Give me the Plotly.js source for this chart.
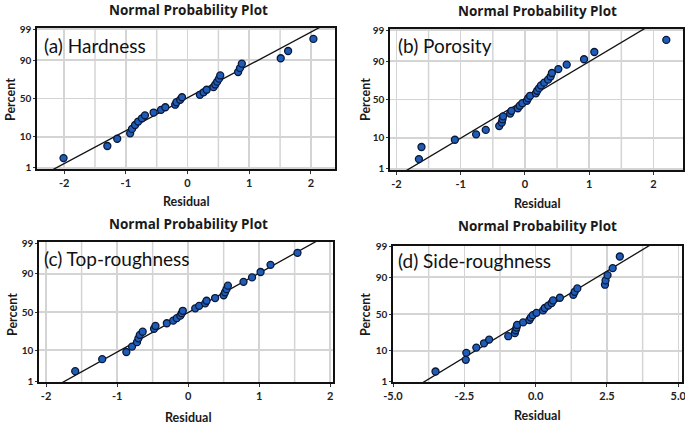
<!DOCTYPE html>
<html>
<head>
<meta charset="utf-8">
<script src="https://cdn.plot.ly/plotly-3.0.1.min.js"></script>
<style>html,body{margin:0;padding:0;background:#fff;}#chart{width:685px;height:424px;}</style>
</head>
<body>
<div id="chart"></div>
<script>
// Percent (plotting positions) read from the y positions of the points, 30 points per panel
const percents = [2.30, 5.59, 8.88, 12.17, 15.46, 18.75, 22.04, 25.33, 28.62, 31.91, 35.20, 38.49, 41.78, 45.07, 48.36, 51.64, 54.93, 58.22, 61.51, 64.80, 68.09, 71.38, 74.67, 77.96, 81.25, 84.54, 87.83, 91.12, 94.41, 97.70];

// Residuals
const hardnessResid = [-2.01, -1.30, -1.14, -0.93, -0.90, -0.85, -0.80, -0.74, -0.69, -0.55, -0.43, -0.36, -0.20, -0.18, -0.12, -0.09, 0.20, 0.26, 0.31, 0.42, 0.45, 0.48, 0.51, 0.53, 0.82, 0.85, 0.88, 1.51, 1.63, 2.04];
const porosityResid = [-1.65, -1.61, -1.09, -0.76, -0.61, -0.40, -0.36, -0.35, -0.34, -0.23, -0.21, -0.11, -0.08, -0.04, 0.03, 0.05, 0.08, 0.17, 0.19, 0.22, 0.25, 0.30, 0.36, 0.40, 0.42, 0.52, 0.65, 0.92, 1.08, 2.20];
const topRoughResid = [-1.59, -1.21, -0.87, -0.79, -0.72, -0.70, -0.68, -0.64, -0.48, -0.46, -0.30, -0.21, -0.16, -0.11, -0.09, -0.075, 0.10, 0.155, 0.24, 0.26, 0.38, 0.50, 0.52, 0.54, 0.56, 0.78, 0.90, 1.02, 1.16, 1.54];
const sideRoughResid = [-3.51, -2.45, -2.43, -2.08, -1.81, -1.63, -0.96, -0.73, -0.70, -0.67, -0.65, -0.44, -0.22, -0.17, -0.10, 0.03, 0.26, 0.32, 0.44, 0.56, 0.61, 0.85, 1.32, 1.37, 1.46, 2.43, 2.45, 2.52, 2.70, 2.95];

// Fitted reference lines: two points each (residual, percent)
const lineP = [0.5, 99.5];
const hardnessLineX = [-2.36, 2.32];
const porosityLineX = [-2.00, 2.02];
const topRoughLineX = [-1.92, 1.95];
const sideRoughLineX = [-4.28, 4.32];

// Axis ticks
const yTickPercents = [1, 10, 50, 90, 99];
const yTickText = ['1', '10', '50', '90', '99'];
const xTicksABC = [-2, -1, 0, 1, 2];
const xTickTextABC = ['-2', '-1', '0', '1', '2'];
const xMinorABC = [-1.5, -0.5, 0.5, 1.5];
const xTicksD = [-5, -2.5, 0, 2.5, 5];
const xTickTextD = ['-5.0', '-2.5', '0.0', '2.5', '5.0'];
const xMinorD = [-3.75, -1.25, 1.25, 3.75];

const panelLabels = ['(a) Hardness', '(b) Porosity', '(c) Top-roughness', '(d) Side-roughness'];
const plotTitle = 'Normal Probability Plot';

// Normal probability (probit) scale: inverse standard normal CDF (Acklam)
function probit(pct) {
  const p = pct / 100;
  const a = [-3.969683028665376e+01, 2.209460984245205e+02, -2.759285104469687e+02, 1.383577518672690e+02, -3.066479806614716e+01, 2.506628277459239e+00];
  const b = [-5.447609879822406e+01, 1.615858368580409e+02, -1.556989798598866e+02, 6.680131188771972e+01, -1.328068155288572e+01];
  const c = [-7.784894002430293e-03, -3.223964580411365e-01, -2.400758277161838e+00, -2.549732539343734e+00, 4.374664141464968e+00, 2.938163982698783e+00];
  const d = [7.784695709041462e-03, 3.224671290700398e-01, 2.445134137142996e+00, 3.754408661907416e+00];
  const pl = 0.02425, ph = 1 - pl;
  let q, r;
  if (p < pl) {
    q = Math.sqrt(-2 * Math.log(p));
    return (((((c[0]*q+c[1])*q+c[2])*q+c[3])*q+c[4])*q+c[5]) / ((((d[0]*q+d[1])*q+d[2])*q+d[3])*q+1);
  } else if (p <= ph) {
    q = p - 0.5; r = q * q;
    return (((((a[0]*r+a[1])*r+a[2])*r+a[3])*r+a[4])*r+a[5])*q / (((((b[0]*r+b[1])*r+b[2])*r+b[3])*r+b[4])*r+1);
  } else {
    q = Math.sqrt(-2 * Math.log(1 - p));
    return -(((((c[0]*q+c[1])*q+c[2])*q+c[3])*q+c[4])*q+c[5]) / ((((d[0]*q+d[1])*q+d[2])*q+d[3])*q+1);
  }
}

const W = 685, H = 424;
const px = x => x / W;
const py = y => 1 - y / H;

const panels = [
  {resid: hardnessResid, lineX: hardnessLineX, xr: [-2.44, 2.39], ticks: xTicksABC, ticktext: xTickTextABC, minor: xMinorABC,
   box: [37, 335, 28, 169], title: [188, 10], xt: [187, 202], yt: [10, 100], lab: [42, 45]},
  {resid: porosityResid, lineX: porosityLineX, xr: [-2.10, 2.46], ticks: xTicksABC, ticktext: xTickTextABC, minor: xMinorABC,
   box: [390, 683, 29, 170], title: [537, 11], xt: [537, 203], yt: [365, 100], lab: [396, 45]},
  {resid: topRoughResid, lineX: topRoughLineX, xr: [-2.10, 2.04], ticks: xTicksABC, ticktext: xTickTextABC, minor: xMinorABC,
   box: [39, 333, 242, 382], title: [188, 224], xt: [188, 417], yt: [12, 315], lab: [42, 258]},
  {resid: sideRoughResid, lineX: sideRoughLineX, xr: [-5.0, 5.13], ticks: xTicksD, ticktext: xTickTextD, minor: xMinorD,
   box: [393, 682, 246, 382], title: [537, 226], xt: [537, 415], yt: [365, 315], lab: [396, 260]}
];

const FONT = 'Lato, "Open Sans", sans-serif';
const TITLE_FONT = '"Open Sans", Lato, sans-serif';
const gridColor = '#d4d4d4';
const traces = [];
const layout = {
  width: W, height: H,
  margin: {l: 0, r: 0, t: 0, b: 0},
  paper_bgcolor: '#ffffff', plot_bgcolor: '#ffffff',
  showlegend: false,
  font: {family: FONT, color: '#222'},
  annotations: [],
  shapes: []
};

panels.forEach((p, i) => {
  const n = i === 0 ? '' : String(i + 1);
  const xa = 'x' + n, ya = 'y' + n;
  traces.push({
    type: 'scatter', mode: 'lines', xaxis: xa, yaxis: ya,
    x: p.lineX, y: lineP.map(probit),
    line: {color: '#111111', width: 1.3}, hoverinfo: 'skip'
  });
  traces.push({
    type: 'scatter', mode: 'markers', xaxis: xa, yaxis: ya,
    x: p.resid, y: percents.map(probit), cliponaxis: false,
    marker: {size: 7, color: '#1f5cb8', line: {color: '#0a1838', width: 1.3}}
  });
  layout['xaxis' + n] = {
    domain: [px(p.box[0]), px(p.box[1])], anchor: ya, range: p.xr,
    tickmode: 'array', tickvals: p.ticks, ticktext: p.ticktext,
    showgrid: true, gridcolor: gridColor, gridwidth: 1.5, zeroline: false,
    showline: true, linecolor: '#111', linewidth: 1.6, mirror: true,
    ticks: 'outside', ticklen: 3, tickcolor: '#333', tickwidth: 1,
    ticklabeloverflow: 'allow',
    tickfont: {family: FONT, size: 11, color: '#222', weight: 'bold'}
  };
  layout['yaxis' + n] = {
    domain: [py(p.box[3]), py(p.box[2])], anchor: xa, range: [-2.36, 2.36],
    tickmode: 'array', tickvals: yTickPercents.map(probit), ticktext: yTickText,
    showgrid: true, gridcolor: gridColor, gridwidth: 1.5, zeroline: false,
    showline: true, linecolor: '#111', linewidth: 1.6, mirror: true,
    ticks: 'outside', ticklen: 2, tickcolor: '#333', tickwidth: 1,
    tickfont: {family: FONT, size: 10, color: '#222', weight: 'bold'}
  };
  // intermediate vertical gridlines (half tick spacing), placed through the x axis scale
  p.minor.forEach(v => {
    layout.shapes.push({type: 'line', xref: xa, yref: ya + ' domain', x0: v, x1: v, y0: 0, y1: 1,
      line: {color: gridColor, width: 1.5}, layer: 'below'});
  });
  layout.annotations.push(
    {xref: 'paper', yref: 'paper', x: px(p.title[0]), y: py(p.title[1]), xanchor: 'center', yanchor: 'middle',
     text: plotTitle, showarrow: false, font: {family: TITLE_FONT, size: 13.5, color: '#1a1a1a', weight: 'bold'}},
    {xref: 'paper', yref: 'paper', x: px(p.xt[0]), y: py(p.xt[1]), xanchor: 'center', yanchor: 'middle',
     text: 'Residual', showarrow: false, font: {family: FONT, size: 12.5, color: '#1a1a1a', weight: 'bold'}},
    {xref: 'paper', yref: 'paper', x: px(p.yt[0]), y: py(p.yt[1]), xanchor: 'center', yanchor: 'middle',
     text: 'Percent', textangle: -90, showarrow: false, font: {family: FONT, size: 12.5, color: '#1a1a1a', weight: 'bold'}},
    {xref: 'paper', yref: 'paper', x: px(p.lab[0]), y: py(p.lab[1]), xanchor: 'left', yanchor: 'middle',
     text: panelLabels[i], showarrow: false, font: {family: FONT, size: 19, color: '#111'}}
  );
});

Plotly.newPlot('chart', traces, layout, {staticPlot: true, displayModeBar: false});
</script>
</body>
</html>
